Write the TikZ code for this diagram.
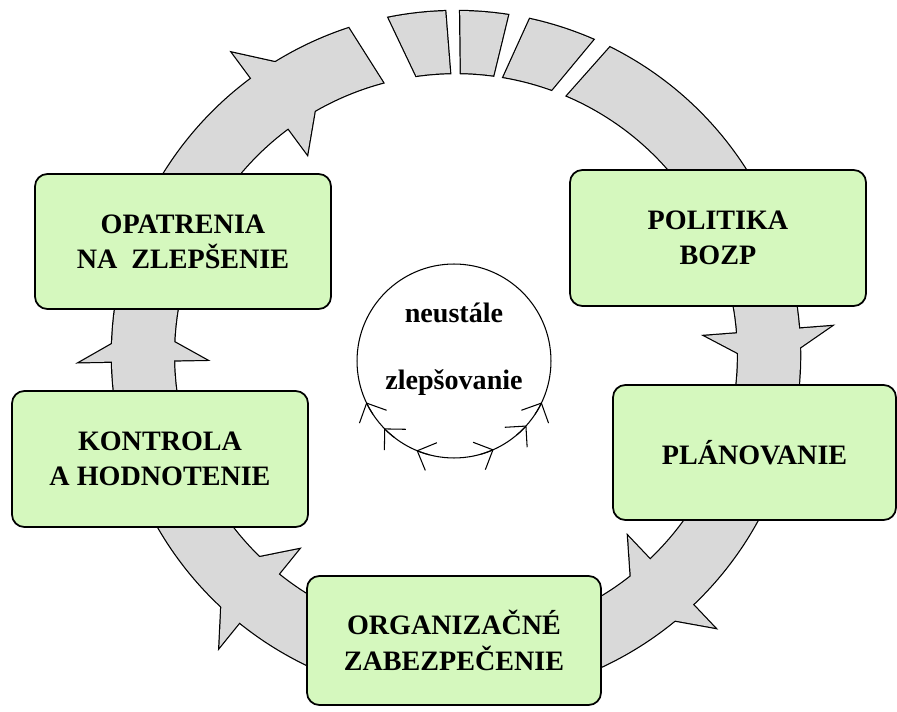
\documentclass[tikz,border=0pt]{standalone}
\usepackage{fontspec}
\setmainfont{Liberation Serif}
\usetikzlibrary{arrows.meta}
\definecolor{boxgreen}{RGB}{213,248,190}
\definecolor{ringgray}{RGB}{217,217,217}
\newcommand\ringout{344}
\newcommand\ringin{282}
\newcommand\ringseg[4]{(#1:\ringout) arc (#1:#2:\ringout) -- (#4:\ringin) arc (#4:#3:\ringin) -- cycle}
\newcommand\barbpath[2]{(#1:250) -- (#1:376) -- (#1-#2:313) -- cycle}
\tikzset{
  stagebox/.style={draw, line width=1pt, fill=boxgreen, rounded corners=7pt, align=center,
    font=\fontsize{16}{20}\selectfont\bfseries},
  ringline/.style={line width=1.4pt},
  circtip/.style={line width=0.6pt, -{Straight Barb[length=3mm,width=6mm]}}
}
\begin{document}
\begin{tikzpicture}[x=0.02cm, y=0.02cm]
	\useasboundingbox (0,0) rectangle (897,711);
	\coordinate (ringc) at (456,356);
	\begin{scope}[shift={(ringc)}]
		\foreach \a/\d in {4.4/7, -46.5/9, -129/9, -178.9/6.5, -233.5/11}
			\draw[ringline] \barbpath{\a}{\d};
		\draw[ringline] \ringseg{63.4}{-251.8}{66.8}{-255};
		\draw[ringline] \ringseg{101.3}{91.8}{98.1}{91.2};
		\draw[ringline] \ringseg{89.3}{81.3}{89}{82.4};
		\draw[ringline] \ringseg{77.6}{66.5}{80.3}{70.2};
		\foreach \a/\d in {4.4/7, -46.5/9, -129/9, -178.9/6.5, -233.5/11}
			\fill[ringgray] \barbpath{\a}{\d};
		\fill[ringgray] \ringseg{63.4}{-251.8}{66.8}{-255};
		\fill[ringgray] \ringseg{101.3}{91.8}{98.1}{91.2};
		\fill[ringgray] \ringseg{89.3}{81.3}{89}{82.4};
		\fill[ringgray] \ringseg{77.6}{66.5}{80.3}{70.2};
	\end{scope}

	\node[stagebox, minimum width=5.92cm, minimum height=2.7cm] (opatrenia) at (183,469.5) {OPATRENIA\\NA\ \ ZLEPŠENIE};
	\node[stagebox, minimum width=5.92cm, minimum height=2.72cm] (politika) at (718,473) {POLITIKA\\BOZP};
	\node[stagebox, minimum width=5.66cm, minimum height=2.7cm] (planovanie) at (754.5,258.5) {PLÁNOVANIE};
	\node[stagebox, minimum width=5.92cm, minimum height=2.72cm] (kontrola) at (160,252) {KONTROLA\\A HODNOTENIE};
	\node[stagebox, minimum width=5.88cm, minimum height=2.58cm] (organizacne) at (454,70.5) {ORGANIZAČNÉ\\ZABEZPEČENIE};

	\node[draw, circle, line width=0.6pt, minimum size=3.88cm, inner sep=0pt] (cyklus) at (454,350) {};
	\node[font=\fontsize{16}{20}\selectfont\bfseries] (neustale) at (454,398) {neustále};
	\node[font=\fontsize{16}{20}\selectfont\bfseries] (zlepsovanie) at (454,328) {zlepšovanie};
	\foreach \s/\t in {213.3/205.3, 232/224, 255.3/247.3, 286.1/294.1, 310.3/318.3, 326.7/334.7}
		\draw[circtip] (cyklus.center) ++(\s:97) arc (\s:\t:97);
\end{tikzpicture}
\end{document}
